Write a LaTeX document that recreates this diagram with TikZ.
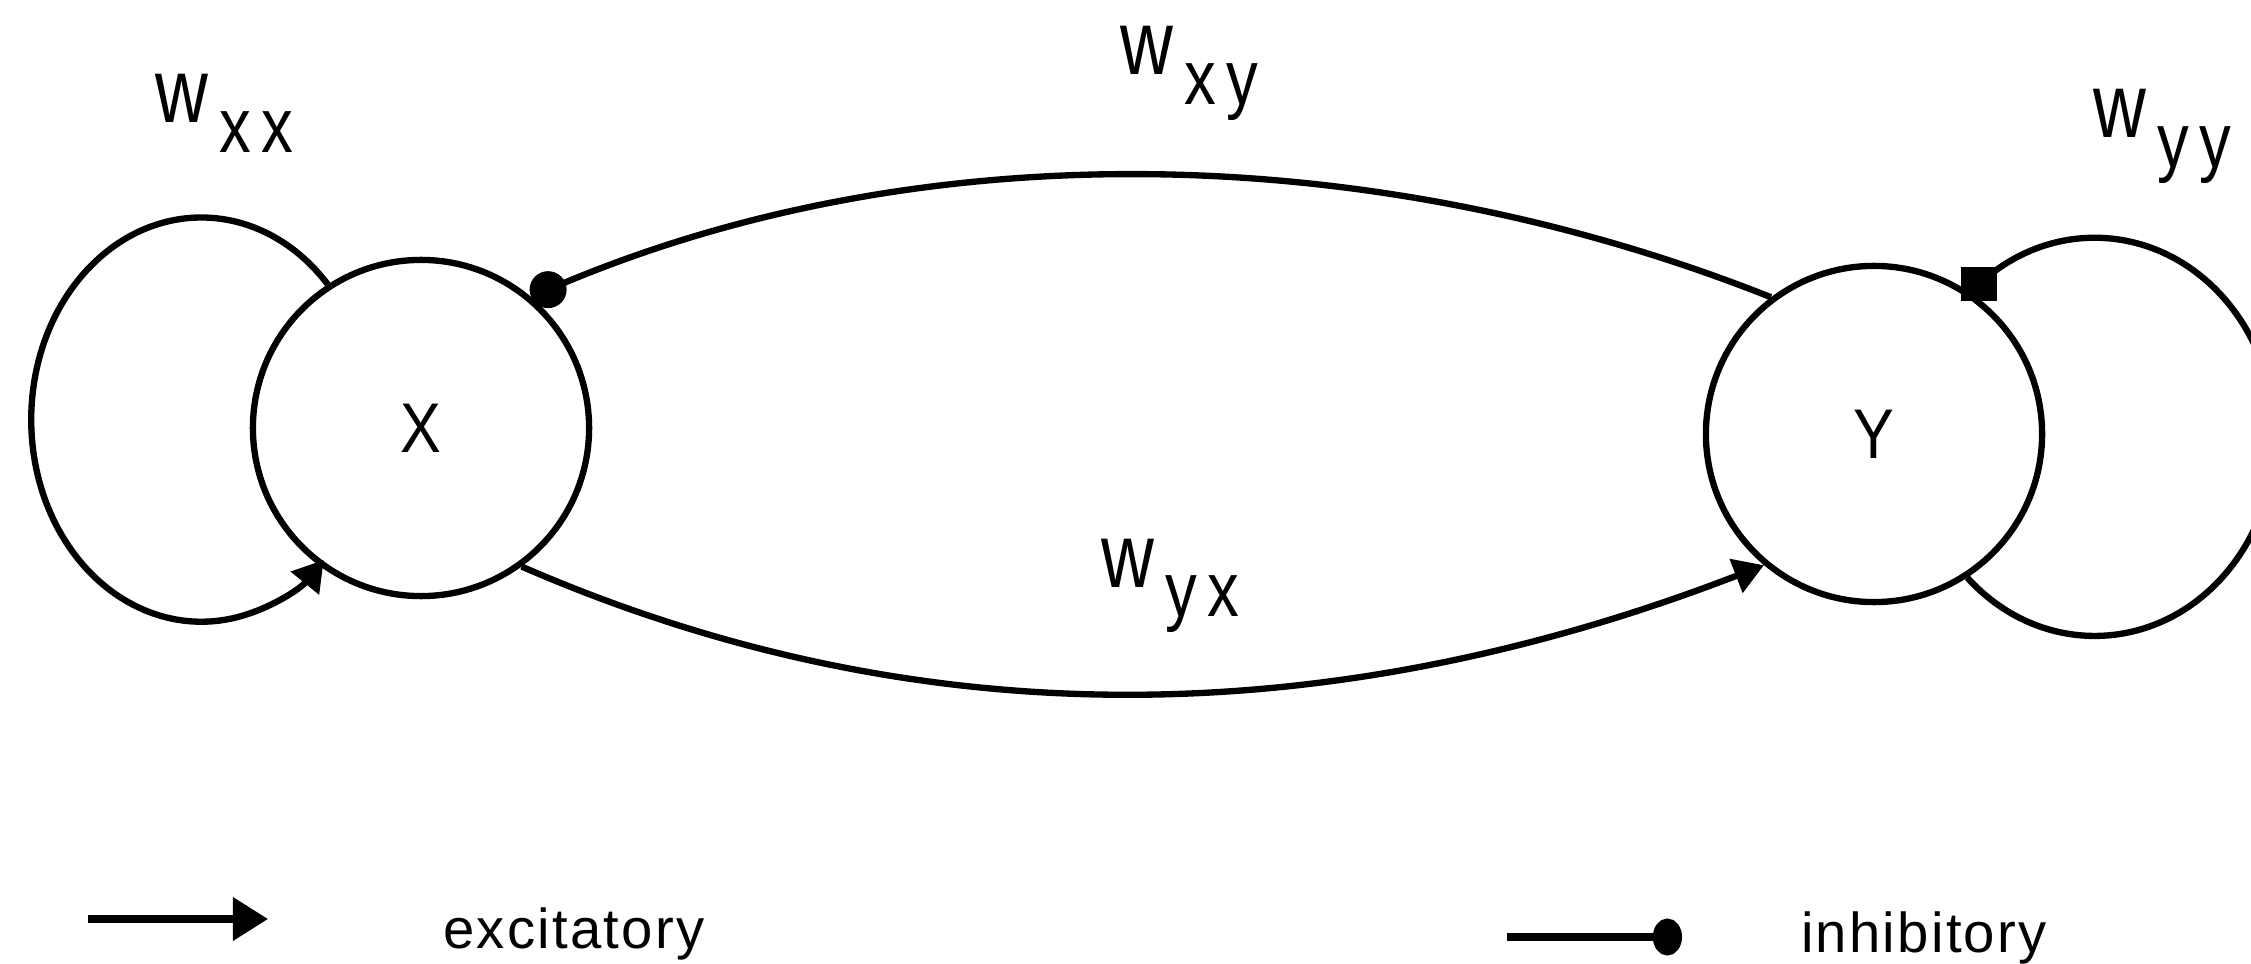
\documentclass[tikz,border=0pt]{standalone}
\usepackage{fontspec}
\setmainfont{Liberation Sans}
\newfontfamily\legendfont[LetterSpace=4]{Liberation Sans}
\usetikzlibrary{arrows.meta}
\newcommand\wlabel[1]{{\fontsize{26}{26}\selectfont\scalebox{0.8}[1]{w}}\hspace{3.2pt}\raisebox{-8.5pt}{\fontsize{22}{22}\selectfont\scalebox{0.82}[1]{#1}}}
\begin{document}
\begin{tikzpicture}[x=0.01cm,y=0.01cm, line width=1.8pt,
  neuron/.style={circle, draw, minimum size=3.36cm, inner sep=0pt, font=\fontsize{20}{20}\selectfont},
  lbl/.style={anchor=base west, inner sep=0pt},
  legtext/.style={anchor=base west, inner sep=0pt, font=\legendfont\fontsize{16}{16}\selectfont},
  exc/.style={-{Triangle[length=8.5pt,width=10pt]}},
  inh/.style={-{Circle[length=10.5pt,width=10.5pt]}}]
\useasboundingbox (0,0) rectangle (2251,963);
\clip (0,0) rectangle (2251,963);
% neurons
\node[neuron] (X) at (421,535) {\scalebox{0.87}[1]{X}};
\node[neuron] (Y) at (1874,529) {\scalebox{0.87}[1]{Y}};
% self loops
\draw[exc] (X.123) arc[start angle=42, end angle=316, x radius=1.70cm, y radius=2.02cm];
\draw (Y.-57) arc[start angle=225, end angle=490, x radius=1.80cm, y radius=1.99cm] coordinate (sq);
\fill (sq) ++(-18,-17) rectangle ++(36,34);
% cross connections
\draw[inh] (Y.127) .. controls (1376,823) and (925,832) .. (X.50);
\draw[exc] (X.-54) .. controls (936,216) and (1350,238) .. (Y.230);
% weight labels
\node[lbl] (wxx) at (152,840) {\wlabel{x\,x}};
\node[lbl] (wxy) at (1117,888) {\wlabel{x\,y}};
\node[lbl] (wyy) at (2090,825) {\wlabel{y\,y}};
\node[lbl] (wyx) at (1098,376) {\wlabel{y\,x}};
% legend
\coordinate (ea) at (88,44);
\coordinate (eb) at (268,44);
\draw[line width=2pt, -{Triangle[length=10pt,width=12pt]}] (ea) -- (eb);
\node[legtext] (te) at (440,15) {excitatory};
\coordinate (ia) at (1507,26);
\coordinate (ib) at (1682,26);
\draw[line width=2pt, -{Circle[length=8.3pt,width=10.5pt]}] (ia) -- (ib);
\node[legtext] (ti) at (1798,11) {inhibitory};
\end{tikzpicture}
\end{document}
